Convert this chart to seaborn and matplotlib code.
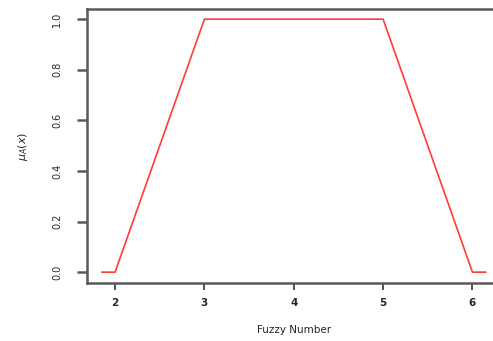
import pandas as pd
import matplotlib.pyplot as plt
import seaborn as sns

# Trapezoidal fuzzy number (2, 3, 5, 6)
x_vals = [1.85, 2, 3, 5, 6, 6.15]
mu_vals = [0, 0, 1, 1, 0, 0]
x_ticks = [2, 3, 4, 5, 6]
y_ticks = [0.0, 0.2, 0.4, 0.6, 0.8, 1.0]

df = pd.DataFrame({"x": x_vals, "mu": mu_vals})

sns.set_style("white")
plt.rcParams["font.family"] = ["DejaVu Sans"]

fig = plt.figure(figsize=(4.93, 3.41), dpi=100, facecolor="w")
ax = fig.add_axes([0.1765, 0.170, 0.838, 0.8035])

sns.lineplot(data=df, x="x", y="mu", color="#ff3b3b", linewidth=1.2, ax=ax,
             sort=False, estimator=None)

ax.set_xlim(1.686, 6.31)
ax.set_ylim(-0.043, 1.04)
ax.set_xticks(x_ticks)
ax.set_xticklabels([str(t) for t in x_ticks], fontsize=7.5, fontweight="bold")
ax.set_yticks(y_ticks)
ax.set_yticklabels([f"{t:.1f}" for t in y_ticks], fontsize=7, rotation=90, va="center")

for s in ax.spines.values():
    s.set_color("#5a5a5a")
    s.set_linewidth(1.8)
ax.spines["right"].set_visible(False)

ax.tick_params(axis="y", left=True, direction="out", length=7, width=1.8,
               color="#5a5a5a", pad=11)
ax.tick_params(axis="x", bottom=True, direction="out", length=5, width=1.2,
               color="#333333", pad=6)

ax.set_xlabel("Fuzzy Number", fontsize=7.5, labelpad=12)
ax.set_ylabel(r"$\mu_A(x)$", fontsize=8, labelpad=16)

fig.savefig("out.png", dpi=100)
